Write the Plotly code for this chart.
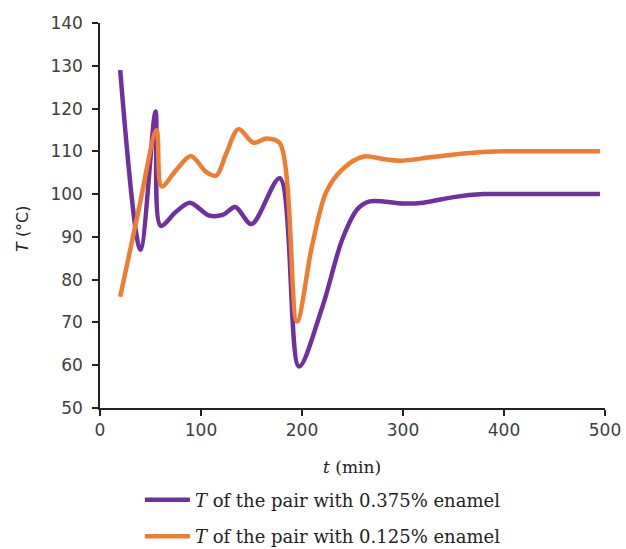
import plotly.graph_objects as go

t_purple = [20, 40, 55, 60, 75, 89, 108, 122, 134, 150, 178, 197, 220, 240, 255, 267, 300, 320, 350, 380, 400, 450, 495]
T_purple = [129, 87, 119.3, 92.6, 95.8, 98, 95, 95.2, 97, 93, 103.7, 59.7, 73.5, 89.5, 96.5, 98.3, 97.8, 98, 99.3, 100, 100, 100, 100]

t_orange = [20, 38, 56, 61, 75, 90, 105, 115, 125, 137, 152, 165, 178, 195, 210, 224, 240, 261, 280, 297, 327, 360, 400, 450, 495]
T_orange = [76, 96, 115, 101.8, 105.5, 108.9, 105.2, 104.3, 109.5, 115.2, 112, 113, 111.9, 70.2, 88, 100.5, 105.8, 108.8, 108.2, 107.8, 108.6, 109.5, 110, 110, 110]

names = ["<i>T</i> of the pair with 0.375% enamel", "<i>T</i> of the pair with 0.125% enamel"]
colors = ["#7030A0", "#ED7D31"]

fig = go.Figure()
fig.add_trace(go.Scatter(x=t_purple, y=T_purple, mode="lines", name=names[0],
                         legendgroup="a",
                         line=dict(color=colors[0], width=4.5, shape="spline", smoothing=0.9)))
fig.add_trace(go.Scatter(x=t_orange, y=T_orange, mode="lines", name=names[1],
                         legendgroup="b",
                         line=dict(color=colors[1], width=4.5, shape="spline", smoothing=0.9)))

tickfont = dict(family="DejaVu Sans", size=17, color="#404040")
fig.update_layout(
    width=626, height=549,
    margin=dict(l=100, r=21, t=23, b=141, autoexpand=False),
    paper_bgcolor="white", plot_bgcolor="white",
    showlegend=True,
    legend=dict(orientation="v", x=0.079, xanchor="left", y=-0.191, yanchor="top",
                font=dict(family="DejaVu Serif", size=18, color="#222222"),
                itemwidth=45, tracegroupgap=10, bgcolor="rgba(0,0,0,0)"),
    xaxis=dict(range=[0, 500], tickvals=[0, 100, 200, 300, 400, 500],
               showline=True, linecolor="#222222", linewidth=1.5,
               ticks="outside", ticklen=6, tickcolor="#222222", tickwidth=1.5,
               showgrid=False, zeroline=False, tickfont=tickfont, automargin=False),
    yaxis=dict(range=[50, 140], tickvals=[50, 60, 70, 80, 90, 100, 110, 120, 130, 140],
               showline=True, linecolor="#222222", linewidth=1.5,
               ticks="outside", ticklen=6, tickcolor="#222222", tickwidth=1.5,
               showgrid=False, zeroline=False, tickfont=tickfont, ticklabelstandoff=6,
               automargin=False),
    annotations=[
        dict(text="<i>t</i> (min)", xref="paper", yref="paper", x=0.499, y=-0.153,
             xanchor="center", yanchor="middle", showarrow=False,
             font=dict(family="DejaVu Serif", size=17, color="#222222")),
        dict(text="<i>T</i> (°C)", xref="paper", yref="paper", x=-0.1545, y=0.4675,
             xanchor="center", yanchor="middle", showarrow=False, textangle=-90,
             font=dict(family="DejaVu Sans", size=16, color="#222222")),
    ],
)

fig.write_html("out.html")
